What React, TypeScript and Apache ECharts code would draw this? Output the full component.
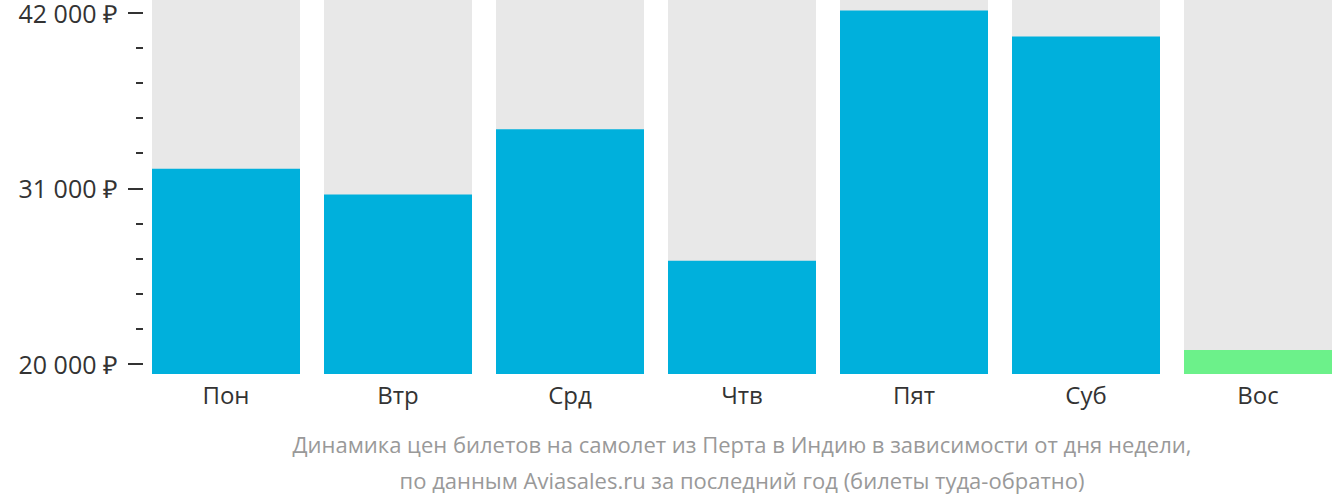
import React, { useEffect, useRef } from "react";
import * as echarts from "echarts";

const categories = ["Пон", "Втр", "Срд", "Чтв", "Пят", "Суб", "Вос"];
const prices = [32100, 30500, 34550, 26400, 41900, 40300, 20870];
const barColors = ["#00b0dc", "#00b0dc", "#00b0dc", "#00b0dc", "#00b0dc", "#00b0dc", "#6cf18a"];
const tickValues = [20000, 31000, 42000];
const subtitleLines = [
  "Динамика цен билетов на самолет из Перта в Индию в зависимости от дня недели,",
  "по данным Aviasales.ru за последний год (билеты туда-обратно)",
];

const fmt = (v: number) => String(v).replace(/\B(?=(\d{3})+(?!\d))/g, " ") + " ₽";

export default function App() {
  const ref = useRef<HTMLDivElement>(null);
  useEffect(() => {
    if (!ref.current) return;
    const chart = echarts.init(ref.current, null, { renderer: "svg" });
    const pxPerUnit = 355 / (tickValues[2] - tickValues[0]);
    const yMin = tickValues[0] - 10 / pxPerUnit;
    const yMax = tickValues[2] + 9 / pxPerUnit;
    chart.setOption({
      animation: false,
      textStyle: { fontFamily: "Open Sans" },
      grid: [
        { left: 140, top: 0, width: 1204, height: 374 },
        { left: 143, top: 9, width: 1100, height: 355 },
      ],
      xAxis: [
        {
          type: "category",
          gridIndex: 0,
          data: categories,
          axisLine: { show: false },
          axisTick: { show: false },
          axisLabel: { color: "#333", fontSize: 24, margin: 8, fontFamily: "Open Sans" },
        },
        { type: "value", gridIndex: 1, show: false, min: 0, max: 1 },
      ],
      yAxis: [
        { type: "value", gridIndex: 0, min: yMin, max: yMax, show: false },
        {
          type: "value",
          gridIndex: 1,
          min: tickValues[0],
          max: tickValues[2],
          interval: tickValues[1] - tickValues[0],
          axisLine: { show: false },
          splitLine: { show: false },
          axisTick: { show: true, length: 15, lineStyle: { color: "#333", width: 2 } },
          minorTick: { show: true, splitNumber: 5, length: 7, lineStyle: { color: "#333", width: 2 } },
          axisLabel: {
            color: "#333",
            fontSize: 25,
            margin: 25,
            fontFamily: "Open Sans",
            formatter: (v: number) => fmt(v),
          },
        },
      ],
      series: [
        {
          type: "bar",
          xAxisIndex: 0,
          yAxisIndex: 0,
          barWidth: 148,
          showBackground: true,
          backgroundStyle: { color: "#e8e8e8" },
          data: prices.map((v, i) => ({ value: v, itemStyle: { color: barColors[i] } })),
        },
      ],
      graphic: subtitleLines.map((t, i) => ({
        type: "text",
        x: 742,
        y: 444 + i * 36,
        style: {
          text: t,
          fill: "#999",
          fontSize: 22,
          fontFamily: "Open Sans",
          textAlign: "center",
          textVerticalAlign: "middle",
        },
      })),
    });
    return () => chart.dispose();
  }, []);
  return (
    <div style={{ position: "absolute", left: 0, top: 0, width: 1332, height: 502, overflow: "hidden" }}>
      <div ref={ref} style={{ width: 1344, height: 502 }} />
    </div>
  );
}
